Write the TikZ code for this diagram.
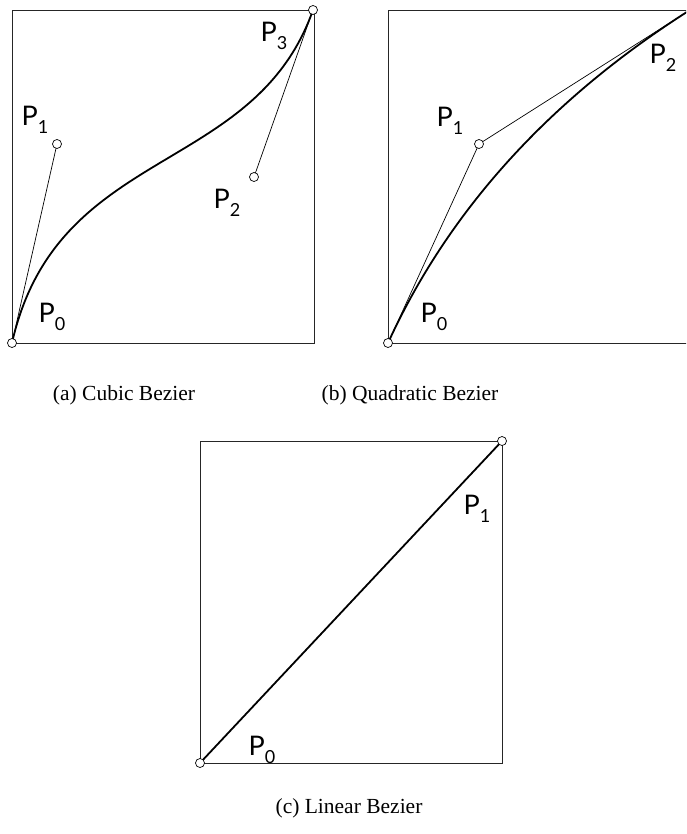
\documentclass[tikz,border=0pt]{standalone}
\usepackage{fontspec}
\usetikzlibrary{calc}
\newfontfamily\labfont{Lato}
\newfontfamily\capfont{Liberation Serif}
\newcommand{\plab}[1]{{\labfont P\raisebox{-0.32em}{\fontsize{18}{18}\selectfont #1}}}
\tikzset{
  frame/.style={draw=black!85, line width=0.9pt},
  ctrl/.style={draw=black, line width=0.7pt},
  curve/.style={draw=black, line width=1.8pt},
  cpt/.style={circle, draw=black, line width=0.7pt, fill=white, minimum size=9pt, inner sep=0pt},
  lab/.style={inner sep=0pt, font=\fontsize{27}{27}\selectfont},
  captext/.style={inner sep=0pt, font=\capfont\fontsize{21.5}{24}\selectfont}
}
\begin{document}
\begin{tikzpicture}[x=1pt,y=-1pt]
\useasboundingbox (0,0) rectangle (686,834);
\clip (0,0) rectangle (686,834);

% ---------- (a) cubic ----------
\draw[frame] (12,10) rectangle (314,343);
\coordinate (a0) at (12,343);
\coordinate (a1) at (57,144);
\coordinate (a2) at (254,177);
\coordinate (a3) at (313,10);
\draw[ctrl] (a0) -- (a1);
\draw[ctrl] (a3) -- (a2);
\draw[curve] (a0) .. controls (a1) and (a2) .. (a3);
\node[cpt] (c0) at (a0) {};
\node[cpt] (c1) at (a1) {};
\node[cpt] (c2) at (a2) {};
\node[cpt] (c3) at (a3) {};
\node[lab] (la0) at (52,317) {\plab{0}};
\node[lab] (la1) at (35,120) {\plab{1}};
\node[lab] (la2) at (227,203) {\plab{2}};
\node[lab] (la3) at (274,36) {\plab{3}};
\node[captext] (capa) at (124,395) {(a) Cubic Bezier};

% ---------- (b) quadratic ----------
\draw[frame] (688,10) -- (388,10) -- (388,343) -- (688,343);
\coordinate (b0) at (388,343);
\coordinate (b1) at (479,144);
\coordinate (b2) at (690,10);
\draw[ctrl] (b0) -- (b1) -- (b2);
\draw[curve] (b0) .. controls ($(b0)!2/3!(b1)$) and ($(b2)!2/3!(b1)$) .. (b2);
\node[cpt] (d0) at (b0) {};
\node[cpt] (d1) at (b1) {};
\node[lab] (lb0) at (434,317) {\plab{0}};
\node[lab] (lb1) at (450,121) {\plab{1}};
\node[lab] (lb2) at (663,58) {\plab{2}};
\node[captext] (capb) at (410,395) {(b) Quadratic Bezier};

% ---------- (c) linear ----------
\draw[frame] (200,441) rectangle (502,763);
\coordinate (e0) at (200,763);
\coordinate (e1) at (502,441);
\draw[curve] (e0) -- (e1);
\node[cpt] (f0) at (e0) {};
\node[cpt] (f1) at (e1) {};
\node[lab] (lc0) at (262,750) {\plab{0}};
\node[lab] (lc1) at (477,509) {\plab{1}};
\node[captext] (capc) at (349,808) {(c) Linear Bezier};
\end{tikzpicture}
\end{document}
